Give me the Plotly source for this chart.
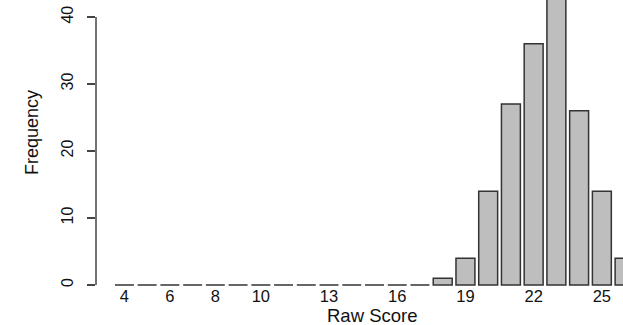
import plotly.graph_objects as go

scores = list(range(4, 27))
freqs = [0, 0, 0, 0, 0, 0, 0, 0, 0, 0, 0, 0, 0, 0, 1, 4, 14, 27, 36, 44, 26, 14, 4]
tick_vals = [4, 6, 8, 10, 13, 16, 19, 22, 25]
y_ticks = [0, 10, 20, 30, 40]

BAR_W = 1 / 1.2
FONT = "Liberation Sans, Arial, sans-serif"
W, H = 623, 325
ML, MB = 96, 38
PW, PH = W - ML, H - MB

fig = go.Figure()

nz_x = [s for s, f in zip(scores, freqs) if f > 0]
nz_y = [f for f in freqs if f > 0]
fig.add_trace(go.Bar(
    x=nz_x, y=nz_y, width=BAR_W,
    marker=dict(color="#BEBEBE", line=dict(color="#333333", width=1.5)),
    hoverinfo="x+y",
))

# zero-height bars drawn as their border line
zx, zy = [], []
for s, f in zip(scores, freqs):
    if f == 0:
        zx += [s - BAR_W / 2, s + BAR_W / 2, None]
        zy += [f, f, None]
fig.add_trace(go.Scatter(x=zx, y=zy, mode="lines",
                         line=dict(color="#333333", width=1.5),
                         hoverinfo="skip", cliponaxis=False))

# y axis line spanning ticks only (R style)
fig.add_shape(type="line", xref="paper", yref="y", x0=0, x1=0,
              y0=min(y_ticks), y1=max(y_ticks),
              line=dict(color="#444444", width=1.5))

fig.add_annotation(text="Raw Score", xref="paper", yref="paper",
                   x=(372 - ML) / PW, y=(PH - 315.5) / PH,
                   xanchor="center", yanchor="middle", showarrow=False,
                   borderpad=0,
                   font=dict(size=18.5, family=FONT, color="#111111"))
fig.add_annotation(text="Frequency", xref="paper", yref="paper",
                   x=(32 - ML) / PW, y=(PH - 133) / PH, textangle=-90,
                   xanchor="center", yanchor="middle", showarrow=False,
                   font=dict(size=18, family=FONT, color="#111111"))

fig.update_layout(
    width=W, height=H,
    margin=dict(l=ML, r=0, t=0, b=MB, autoexpand=False),
    plot_bgcolor="white", paper_bgcolor="white",
    showlegend=False,
    font=dict(family=FONT, color="#111111"),
    xaxis=dict(
        range=[2.75, 25.93], automargin=False,
        tickmode="array", tickvals=tick_vals, ticktext=[str(v) for v in tick_vals],
        showgrid=False, zeroline=False, showline=False, ticks="",
        ticklabelstandoff=-3,
        tickfont=dict(size=16.5, family=FONT, color="#111111"),
    ),
    yaxis=dict(
        range=[-0.3, 42.54], automargin=False,
        tickmode="array", tickvals=y_ticks,
        showgrid=False, zeroline=False, showline=False,
        ticks="outside", ticklen=8, tickwidth=1.5, tickcolor="#444444",
        tickangle=-90, ticklabelstandoff=8,
        tickfont=dict(size=16, family=FONT, color="#111111"),
    ),
)

fig.write_html("out.html", config={"displayModeBar": False},
               post_script="document.body.style.margin='0px';document.body.style.overflow='hidden';")
